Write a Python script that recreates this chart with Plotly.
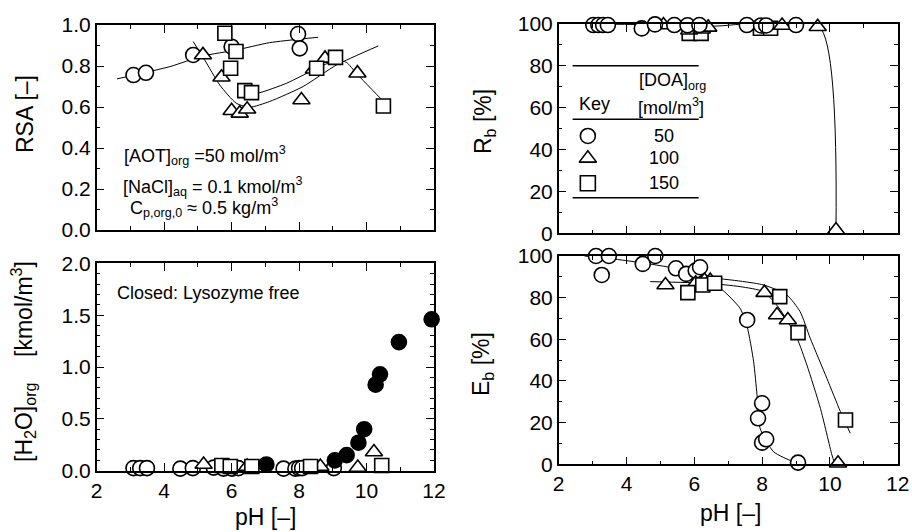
import plotly.graph_objects as go

# ---------------- data ----------------
# Panel 1: RSA vs pH
rsa_c_ph = [3.09, 3.46, 4.86, 6.0, 7.97, 8.02]
rsa_c = [0.756, 0.767, 0.854, 0.894, 0.956, 0.886]
rsa_t_ph = [5.15, 5.7, 6.0, 6.24, 6.46, 8.07, 8.44, 8.77, 9.73]
rsa_t = [0.854, 0.745, 0.582, 0.569, 0.589, 0.634, 0.784, 0.837, 0.765]
rsa_s_ph = [5.8, 6.13, 5.97, 6.39, 6.59, 8.52, 9.08, 10.5]
rsa_s = [0.96, 0.871, 0.789, 0.68, 0.67, 0.789, 0.842, 0.605]
rsa_fc_ph = [2.6, 4.17, 5.15, 6.14, 7.13, 8.56]
rsa_fc = [0.737, 0.797, 0.849, 0.878, 0.914, 0.94]
rsa_ft_ph = [4.86, 5.2, 5.65, 6.14, 6.54, 7.13, 8.12, 9.11, 10.35]
rsa_ft = [0.919, 0.83, 0.707, 0.618, 0.599, 0.627, 0.70, 0.805, 0.898]
rsa_fs_ph = [6.56, 6.84, 7.63, 8.42, 9.11, 9.41, 9.7, 10.69]
rsa_fs = [0.665, 0.670, 0.716, 0.78, 0.829, 0.817, 0.764, 0.595]

# Panel 2: Rb vs pH
rb_c_ph = [3.02, 3.17, 3.31, 3.45, 4.45, 4.84, 5.41, 5.8, 6.15, 7.55, 7.97, 8.12, 9.0]
rb_c = [99.5, 99.5, 99.5, 99.5, 97.9, 99.8, 99.5, 99.4, 99.5, 99.5, 99.3, 99.3, 99.5]
rb_t_ph = [5.09, 5.85, 6.22, 6.41, 8.59, 9.64, 10.18]
rb_t = [99.5, 97.0, 97.5, 98.4, 99.3, 98.7, 1.6]
rb_s_ph = [5.85, 6.2, 7.95, 8.25]
rb_s = [95.5, 95.5, 98.0, 98.0]
rb_f_ph = [3.0, 5.5, 6.6, 9.69, 10.18]
rb_f = [100.0, 99.5, 99.0, 98.7, 1.6]

# Panel 3: [H2O]org vs pH
h_c_ph = [3.09, 3.29, 3.49, 4.48, 4.85, 5.47, 5.76, 6.01, 6.2, 7.54, 7.89, 8.0, 8.09, 9.03]
h_c = [0.025, 0.025, 0.025, 0.02, 0.025, 0.03, 0.02, 0.02, 0.025, 0.02, 0.02, 0.025, 0.025, 0.025]
h_t_ph = [5.17, 6.46, 8.63, 9.74, 10.22]
h_t = [0.06, 0.04, 0.04, 0.03, 0.18]
h_s_ph = [5.71, 5.96, 6.6, 8.34, 10.45]
h_s = [0.05, 0.04, 0.04, 0.04, 0.05]
h_f_ph = [7.03, 9.06, 9.41, 9.76, 9.93, 10.27, 10.4, 10.96, 11.93]
h_f = [0.06, 0.1, 0.15, 0.27, 0.4, 0.83, 0.93, 1.24, 1.46]

# Panel 4: Eb vs pH
eb_c_ph = [3.10, 3.27, 3.48, 4.48, 4.85, 5.46, 5.76, 6.04, 6.17, 7.56, 8.0, 7.88, 8.0, 8.12, 9.06]
eb_c = [100, 90.9, 100, 96.2, 100, 94.1, 91.4, 93.0, 94.6, 69.3, 29.3, 22.1, 10.4, 12.0, 0.8]
eb_t_ph = [5.15, 6.04, 6.3, 6.47, 8.07, 8.44, 8.76, 10.24]
eb_t = [86.1, 86.9, 88.2, 88.2, 82.4, 71.7, 69.3, 0.5]
eb_s_ph = [5.81, 6.25, 6.6, 8.52, 9.06, 10.46]
eb_s = [82.4, 86.1, 86.9, 80.5, 63.2, 21.3]
eb_fc_ph = [2.76, 3.89, 4.87, 5.86, 6.77, 7.35, 7.56, 7.75, 7.85, 7.94, 8.34, 8.93, 9.06]
eb_fc = [100, 98, 95.7, 92.5, 84.5, 74.9, 66.0, 49.3, 33.3, 17.3, 6.0, 1.2, 0.8]
eb_ft_ph = [4.7, 6.37, 7.35, 8.04, 8.5, 9.03, 9.32, 9.72, 10.06, 10.15]
eb_ft = [87.7, 86.9, 85.3, 82.9, 75.0, 60.5, 47.7, 26.9, 4.5, 0.0]
eb_fs_ph = [5.8, 6.56, 8.04, 8.73, 9.12, 9.42, 9.91, 10.31, 10.6]
eb_fs = [88.5, 89.3, 86.1, 81.3, 73.3, 60.5, 41.3, 25.3, 14.9]

# legend key values
key_labels = ["50", "100", "150"]
key_y = [46.5, 35.8, 23.9]

# ---------------- figure ----------------
FONT = "Liberation Sans, Arial, Helvetica, sans-serif"
fig = go.Figure()

def line(x, y, ax):
    fig.add_trace(go.Scatter(x=x, y=y, xaxis=ax[0], yaxis=ax[1], mode="lines",
                             line=dict(color="black", width=1, shape="spline", smoothing=0.6),
                             hoverinfo="skip", showlegend=False, cliponaxis=False))

def pts(x, y, ax, symbol, size, fill="white"):
    fig.add_trace(go.Scatter(x=x, y=y, xaxis=ax[0], yaxis=ax[1], mode="markers",
                             marker=dict(symbol=symbol, size=size, color=fill,
                                         line=dict(color="black", width=1.6)),
                             showlegend=False, cliponaxis=False))

A1 = ("x", "y"); A2 = ("x2", "y2"); A3 = ("x3", "y3"); A4 = ("x4", "y4")

# Panel 1
line(rsa_fc_ph, rsa_fc, A1); line(rsa_ft_ph, rsa_ft, A1); line(rsa_fs_ph, rsa_fs, A1)
pts(rsa_c_ph, rsa_c, A1, "circle", 15)
pts(rsa_t_ph, rsa_t, A1, "triangle-up", 15)
pts(rsa_s_ph, rsa_s, A1, "square", 14)

# Panel 2
line(rb_f_ph, rb_f, A2)
pts(rb_s_ph, rb_s, A2, "square", 14)
pts(rb_t_ph, rb_t, A2, "triangle-up", 15)
pts(rb_c_ph, rb_c, A2, "circle", 15)

# Panel 3
pts(h_c_ph, h_c, A3, "circle", 15)
pts(h_t_ph, h_t, A3, "triangle-up", 15)
pts(h_s_ph, h_s, A3, "square", 14)
pts(h_f_ph, h_f, A3, "circle", 15, fill="black")

# Panel 4
line(eb_fc_ph, eb_fc, A4); line(eb_ft_ph, eb_ft, A4); line(eb_fs_ph, eb_fs, A4)
pts(eb_c_ph, eb_c, A4, "circle", 15)
pts(eb_t_ph, eb_t, A4, "triangle-up", 15)
pts(eb_s_ph, eb_s, A4, "square", 14)

# legend key markers inside panel 2
pts([2.86, 2.86, 2.86], key_y, A2, "circle", 15)
fig.data[-1].marker.symbol = ["circle", "triangle-up", "square"]

def axis(domain, rng, dtick, minor_dtick, anchor, labels=True, fmt=None):
    d = dict(domain=domain, range=rng, dtick=dtick, tick0=0, anchor=anchor,
             automargin=False,
             showline=True, linecolor="black", linewidth=1.5, mirror="allticks",
             ticks="inside", ticklen=8, tickwidth=1.2, tickcolor="black",
             minor=dict(dtick=minor_dtick, ticks="inside", ticklen=4, tickwidth=1, tickcolor="black"),
             showgrid=False, zeroline=False, showticklabels=labels,
             tickfont=dict(family=FONT, size=21, color="black"), fixedrange=True)
    if fmt:
        d["tickformat"] = fmt
    return d

XL = [96.7 / 912, 434 / 912]
XR = [558.7 / 912, 897.7 / 912]
H = 532
fig.update_layout(
    template="none",
    width=912, height=532, autosize=False,
    margin=dict(l=0, r=0, t=0, b=0, pad=0),
    paper_bgcolor="white", plot_bgcolor="white",
    font=dict(family=FONT, color="black"),
    xaxis=axis(XL, [2, 12], 2, 1, "y", labels=False),
    yaxis=axis([1 - 230 / H, 1 - 25 / H], [0, 1.0], 0.2, 0.1, "x", fmt=".1f"),
    xaxis2=axis(XR, [2, 12], 2, 1, "y2", labels=False),
    yaxis2=axis([1 - 233.3 / H, 1 - 24 / H], [0, 100], 20, 10, "x2"),
    xaxis3=axis(XL, [2, 12], 2, 1, "y3"),
    yaxis3=axis([1 - 470.7 / H, 1 - 263.3 / H], [0, 2.0], 0.5, 0.1, "x3", fmt=".1f"),
    xaxis4=axis(XR, [2, 12], 2, 1, "y4"),
    yaxis4=axis([1 - 464.3 / H, 1 - 256 / H], [0, 100], 20, 10, "x4"),
)

def ptext(text, x, y, size=23, angle=0, xanchor="center"):
    fig.add_annotation(text=text, xref="paper", yref="paper", x=x / 912, y=1 - y / H,
                       xanchor=xanchor, yanchor="middle", showarrow=False, textangle=angle,
                       font=dict(family=FONT, size=size, color="black"))

# axis titles
ptext("RSA [–]", 25, 114, angle=-90)
ptext("R<sub>b</sub> [%]", 484, 122, angle=-90)
ptext("[H<sub>2</sub>O]<sub>org</sub>    [kmol/m<sup>3</sup>]", 23, 362, angle=-90)
ptext("E<sub>b</sub> [%]", 482, 364, angle=-90)
ptext("pH [–]", 265, 517)
ptext("pH [–]", 730, 513)

# panel 1 notes
ptext("[AOT]<sub>org</sub> =50 mol/m<sup>3</sup>", 122, 156, size=18, xanchor="left")
ptext("[NaCl]<sub>aq</sub> = 0.1 kmol/m<sup>3</sup>", 121, 186, size=18, xanchor="left")
ptext("C<sub>p,org,0</sub> ≈ 0.5 kg/m<sup>3</sup>", 128, 207, size=18, xanchor="left")
# panel 3 note
ptext("Closed: Lysozyme free", 115, 293, size=18, xanchor="left")

# legend table in panel 2 (data coords)
for yv in [80.1, 54.5, 17.0]:
    fig.add_shape(type="line", xref="x2", yref="y2", x0=2.41, x1=6.13, y0=yv, y1=yv,
                  line=dict(color="black", width=1.5))

def dtext(text, x, y, size=18):
    fig.add_annotation(text=text, xref="x2", yref="y2", x=x, y=y, showarrow=False,
                       xanchor="center", yanchor="middle",
                       font=dict(family=FONT, size=size, color="black"))

dtext("[DOA]<sub>org</sub>", 5.35, 72.5)
dtext("Key", 3.05, 61.8)
dtext("[mol/m<sup>3</sup>]", 5.31, 60.8)
for lab, yv in zip(key_labels, key_y):
    dtext(lab, 5.1, yv)

fig.write_html("out.html", config={"displayModeBar": False},
               post_script="document.body.style.margin='0';document.body.style.padding='0';document.body.style.overflow='hidden';")
